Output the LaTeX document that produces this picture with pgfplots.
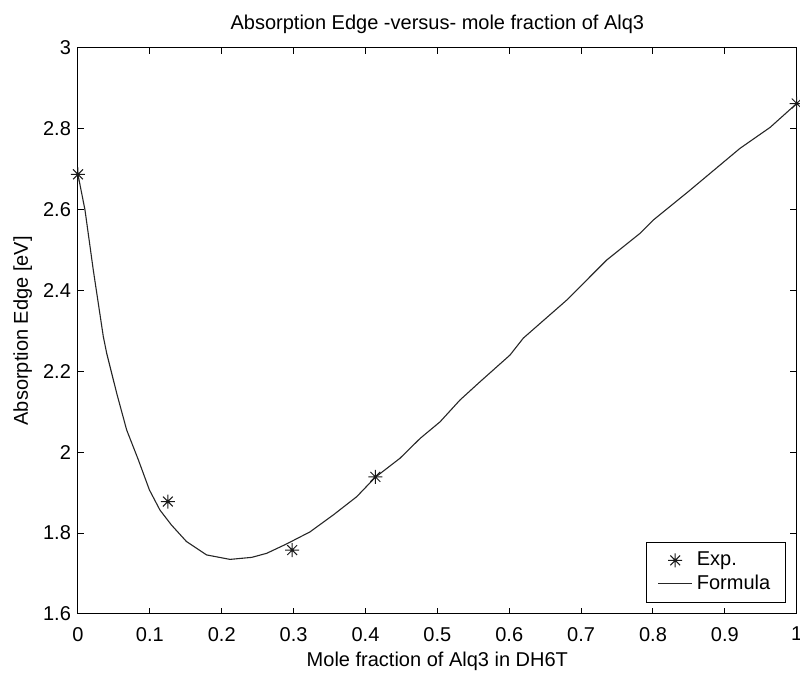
\documentclass[border=0pt]{standalone}
\usepackage{pgfplots}
\pgfplotsset{compat=1.18}
\usepackage{fontspec}
\setmainfont{Liberation Sans}
\pgfdeclareplotmark{mstar}{%
 \pgfpathmoveto{\pgfqpoint{-\pgfplotmarksize}{0pt}}\pgfpathlineto{\pgfqpoint{\pgfplotmarksize}{0pt}}%
 \pgfpathmoveto{\pgfqpoint{0pt}{-\pgfplotmarksize}}\pgfpathlineto{\pgfqpoint{0pt}{\pgfplotmarksize}}%
 \pgfpathmoveto{\pgfqpoint{-0.7\pgfplotmarksize}{-0.7\pgfplotmarksize}}\pgfpathlineto{\pgfqpoint{0.7\pgfplotmarksize}{0.7\pgfplotmarksize}}%
 \pgfpathmoveto{\pgfqpoint{-0.7\pgfplotmarksize}{0.7\pgfplotmarksize}}\pgfpathlineto{\pgfqpoint{0.7\pgfplotmarksize}{-0.7\pgfplotmarksize}}%
 \pgfusepathqstroke}
\begin{document}
\begin{tikzpicture}
\begin{axis}[
  scale only axis,
  width=359.35pt, height=283.15pt,
  xmin=0, xmax=1, ymin=1.6, ymax=3,
  xtick={0,0.1,...,1}, ytick={1.6,1.8,...,3},
  /pgf/number format/assume math mode=true,
  /pgf/number format/fixed,
  font=\fontsize{10}{12}\selectfont,
  tick label style={font=\fontsize{10}{12}\selectfont},
  xticklabel style={yshift=-3pt},
  major tick length=3.2pt,
  tick style={black, line width=0.5pt},
  axis line style={black, line width=0.5pt},
  tick pos=both, tick align=inside,
  title={Absorption Edge -versus- mole fraction of Alq3},
  every axis title/.style={at={(axis description cs:0.5,1)}, anchor=base, yshift=8.85pt},
  xlabel={Mole fraction of Alq3 in DH6T},
  every axis x label/.style={at={(axis description cs:0.5,0)}, anchor=base, yshift=-26.5pt},
  ylabel={Absorption Edge [eV]},
  every axis y label/.style={at={(axis description cs:0,0.5)}, anchor=base, xshift=-25pt, rotate=90},
  legend style={at={(rel axis cs:1,0)}, anchor=south east, xshift=-5.5pt, yshift=5.6pt,
    draw=black, line width=0.5pt, font=\fontsize{10}{12}\selectfont,
    inner xsep=5.5pt, inner ysep=3pt, row sep=-1pt,
    /tikz/every even column/.append style={column sep=3.5pt}},
  legend cell align=left,
]
\coordinate (sw) at (rel axis cs:0,0);
\coordinate (ne) at (rel axis cs:1,1);
\addplot[only marks, mark=mstar, mark size=3.5pt, black!90, line width=0.5pt] coordinates {
(0,2.687) (0.125,1.878) (0.298,1.758) (0.4137,1.939) (1,2.862)
};
\addlegendentry{Exp.}
\addplot[black!85, line width=0.55pt, no marks] coordinates {
(0,2.686) (0.0097,2.599) (0.0213,2.450) (0.0352,2.286) (0.040,2.244)
(0.0538,2.146) (0.0677,2.055) (0.084,1.981) (0.0993,1.907) (0.114,1.857)
(0.130,1.820) (0.151,1.779) (0.179,1.746) (0.2115,1.735) (0.2417,1.740)
(0.2625,1.750) (0.290,1.773) (0.3228,1.803) (0.3553,1.845) (0.3878,1.890)
(0.4137,1.938) (0.448,1.985) (0.476,2.034) (0.5037,2.075) (0.5315,2.129)
(0.5593,2.174) (0.601,2.240) (0.6196,2.282) (0.680,2.376) (0.7356,2.475)
(0.782,2.541) (0.8005,2.574) (0.849,2.644) (0.921,2.751) (0.963,2.803)
(1.0,2.862)
};
\addlegendentry{Formula}
\end{axis}
\pgfresetboundingbox
\useasboundingbox ([shift={(-39pt,-29pt)}]sw) rectangle ([shift={(1.65pt,23.85pt)}]ne);
\end{tikzpicture}
\end{document}
